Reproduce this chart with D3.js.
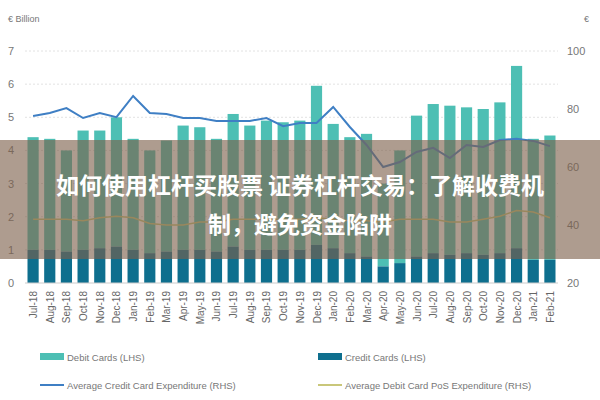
<!DOCTYPE html>
<html><head><meta charset="utf-8">
<script src="https://cdn.jsdelivr.net/npm/d3@7"></script>
<style>body{margin:0;background:#fff;font-family:"Liberation Sans",Arial,sans-serif}</style>
</head><body><svg id="c" width="600" height="400"></svg>
<script>
// months Jul-18 .. Feb-21
const months = ["Jul-18","Aug-18","Sep-18","Oct-18","Nov-18","Dec-18","Jan-19","Feb-19","Mar-19","Apr-19","May-19","Jun-19","Jul-19","Aug-19","Sep-19","Oct-19","Nov-19","Dec-19","Jan-20","Feb-20","Mar-20","Apr-20","May-20","Jun-20","Jul-20","Aug-20","Sep-20","Oct-20","Nov-20","Dec-20","Jan-21","Feb-21"];
const creditCards = [1.0,1.0,0.95,1.0,1.05,1.1,1.0,0.9,0.95,1.0,1.0,0.95,1.1,1.0,1.0,1.0,1.0,1.15,1.05,0.9,0.8,0.5,0.6,0.8,0.9,0.85,0.9,0.85,0.9,1.05,0.7,0.7];
const totalCards = [4.4,4.35,4.0,4.6,4.6,5.0,4.35,4.0,4.3,4.75,4.7,4.35,5.1,4.75,4.9,4.85,4.9,5.95,4.8,4.4,4.5,3.0,4.0,5.05,5.4,5.35,5.3,5.25,5.45,6.55,4.35,4.45];
const debitCards = totalCards.map((t,i)=>+(t-creditCards[i]).toFixed(2));
const creditExp = [77.6,78.6,80.3,76.9,78.6,77.2,84.5,78.6,78.3,76.9,76.9,75.9,75.9,75.9,76.9,74.1,75.2,75.2,80.7,73.8,67.6,60.0,61.7,65.2,66.6,63.1,67.6,66.9,69.3,69.7,69.0,67.2];
const debitExp = [42,42,42,41.5,42.5,43,42.5,40.5,40,40,41,41,42,42,42,42,42,42.5,42,41.5,41.5,41,42,42,42,41,41,42,43,45,44.5,42.5];
const leftTicks = [0,1,2,3,4,5,6,7];
const rightTicks = [20,40,60,80,100];

const svg = d3.select("#c");
const m = {l:25, r:42, t:51, b:117};
const W = 600, H = 400;
const x = d3.scaleBand().domain(months).range([m.l, W-m.r]).paddingInner(0.33).paddingOuter(0.15);
const yL = d3.scaleLinear().domain([0,7]).range([H-m.b, m.t]);
const yR = d3.scaleLinear().domain([20,100]).range([H-m.b, m.t]);

svg.append("text").attr("x",8).attr("y",22).attr("font-size",9).attr("fill","#777").text("€ Billion");
svg.append("text").attr("x",584).attr("y",22).attr("font-size",9).attr("fill","#777").text("€");

// grid
svg.append("g").selectAll("line").data(leftTicks.slice(1)).join("line")
  .attr("x1",m.l).attr("x2",W-m.r).attr("y1",d=>yL(d)).attr("y2",d=>yL(d))
  .attr("stroke","#e2e2e2").attr("stroke-dasharray","2,2");

const ax = svg.append("g").attr("transform",`translate(${m.l-8},0)`).call(d3.axisLeft(yL).tickValues(leftTicks).tickFormat(d3.format("d")).tickSize(0));
ax.select(".domain").remove();
ax.selectAll("text").attr("font-size",11).attr("fill","#777");
const ar = svg.append("g").attr("transform",`translate(${W-m.r+6},0)`).call(d3.axisRight(yR).tickValues(rightTicks).tickFormat(d3.format("d")).tickSize(0));
ar.select(".domain").remove();
ar.selectAll("text").attr("font-size",11).attr("fill","#777");

// bars
svg.append("g").selectAll("rect").data(months).join("rect")
  .attr("x",d=>x(d)).attr("width",x.bandwidth())
  .attr("y",(d,i)=>yL(creditCards[i]+debitCards[i]))
  .attr("height",(d,i)=>yL(creditCards[i])-yL(creditCards[i]+debitCards[i]))
  .attr("fill","#4dbfb4");
svg.append("g").selectAll("rect").data(months).join("rect")
  .attr("x",d=>x(d)).attr("width",x.bandwidth())
  .attr("y",(d,i)=>yL(creditCards[i]))
  .attr("height",(d,i)=>yL(0)-yL(creditCards[i]))
  .attr("fill","#0e6f8e");
svg.append("line").attr("x1",m.l).attr("x2",W-m.r).attr("y1",yL(0)).attr("y2",yL(0)).attr("stroke","#ccc");

const cx = d=>x(d)+x.bandwidth()/2;
svg.append("path").datum(creditExp)
  .attr("d",d3.line().x((d,i)=>cx(months[i])).y(d=>yR(d)))
  .attr("fill","none").attr("stroke","#3f7fc4").attr("stroke-width",2);
svg.append("path").datum(debitExp)
  .attr("d",d3.line().x((d,i)=>cx(months[i])).y(d=>yR(d)))
  .attr("fill","none").attr("stroke","#c9c77a").attr("stroke-width",1.5);

// x labels
svg.append("g").selectAll("text").data(months).join("text")
  .attr("transform",d=>`translate(${cx(d)+4},${H-m.b+8}) rotate(-90)`)
  .attr("text-anchor","end").attr("font-size",10).attr("fill","#666").text(d=>d);

// legend
const leg = [["Debit Cards (LHS)","#4dbfb4","rect",40,357],["Credit Cards (LHS)","#0e6f8e","rect",318,357],
  ["Average Credit Card Expenditure (RHS)","#3f7fc4","line",40,385],["Average Debit Card PoS Expenditure (RHS)","#c9c77a","line",318,385]];
leg.forEach(([t,c,k,lx,ly])=>{
  if(k==="rect") svg.append("rect").attr("x",lx).attr("y",ly-4).attr("width",24).attr("height",7).attr("fill",c);
  else svg.append("line").attr("x1",lx).attr("x2",lx+24).attr("y1",ly).attr("y2",ly).attr("stroke",c).attr("stroke-width",2);
  svg.append("text").attr("x",lx+27).attr("y",ly+4).attr("font-size",9.5).attr("fill","#777").text(t);
});

// overlay banner
svg.append("rect").attr("x",0).attr("y",140).attr("width",600).attr("height",119).attr("fill","rgba(125,95,75,0.62)");
const tf = '"Noto Sans CJK SC",sans-serif';
svg.append("text").attr("x",300).attr("y",194).attr("text-anchor","middle").attr("font-family",tf)
  .attr("font-weight","bold").attr("font-size",23).attr("fill","#fff").text("如何使用杠杆买股票 证券杠杆交易：了解收费机");
svg.append("text").attr("x",300).attr("y",233).attr("text-anchor","middle").attr("font-family",tf)
  .attr("font-weight","bold").attr("font-size",23).attr("fill","#fff").text("制，避免资金陷阱");
</script></body></html>
